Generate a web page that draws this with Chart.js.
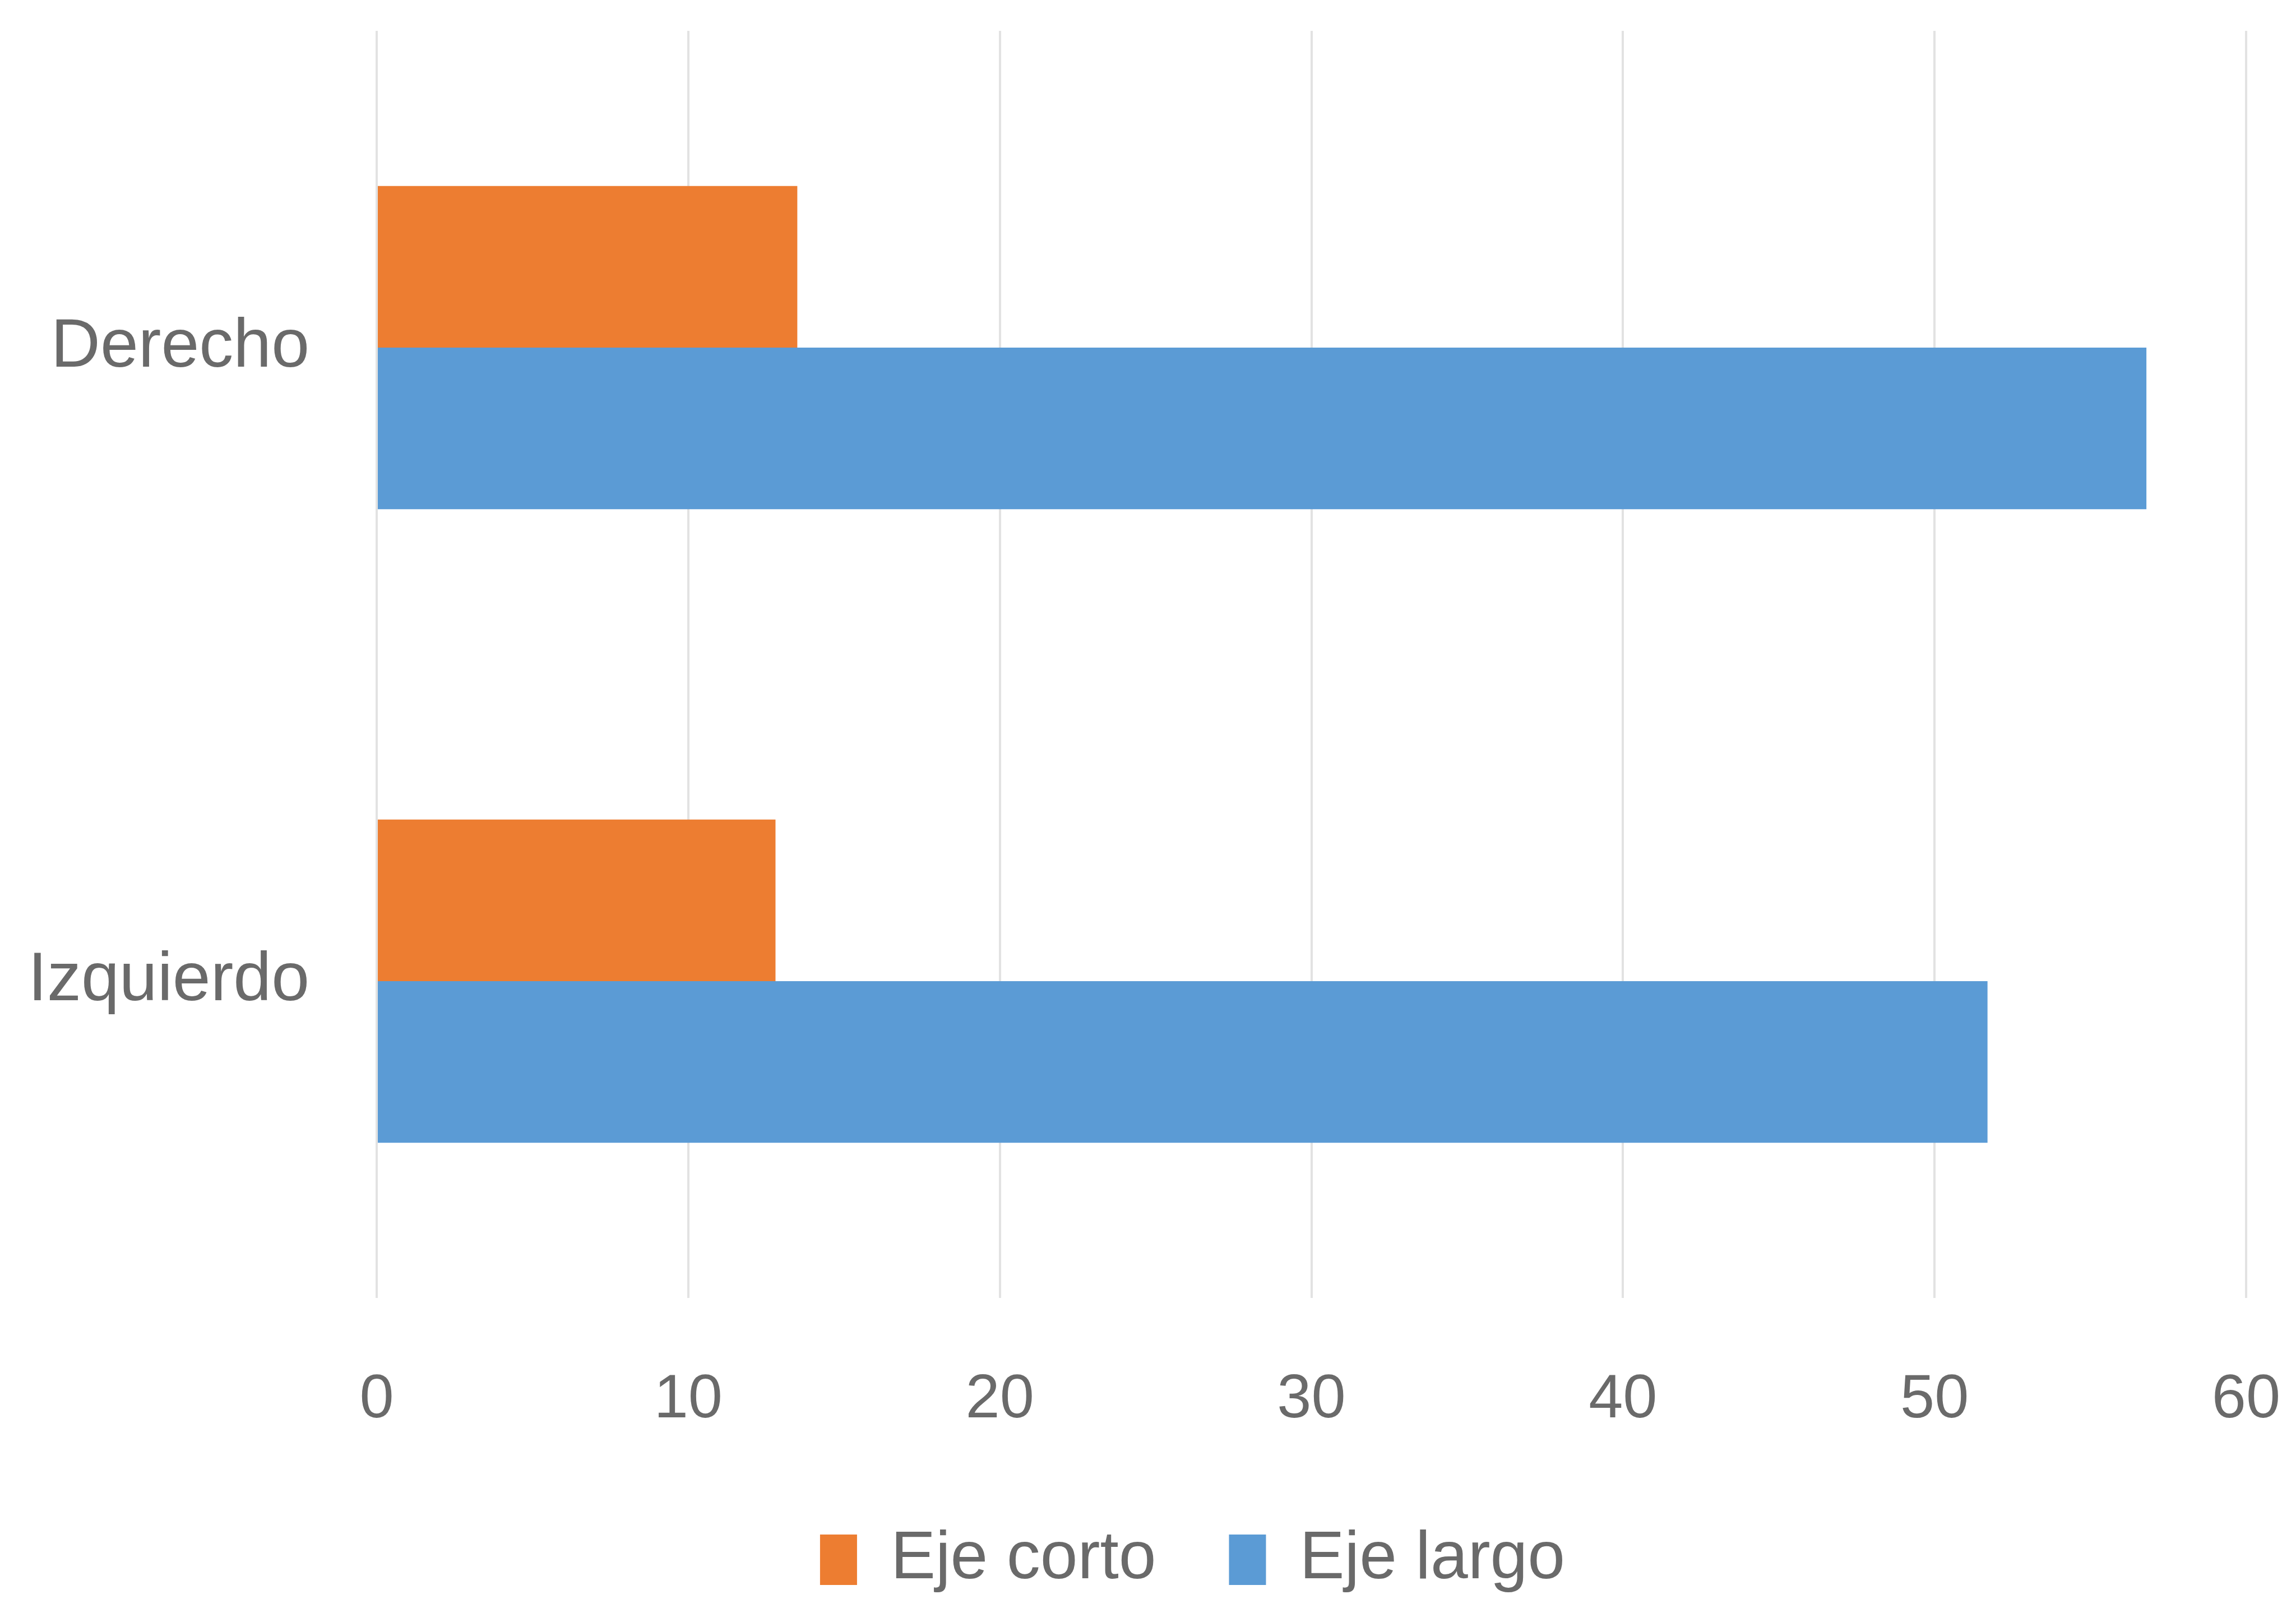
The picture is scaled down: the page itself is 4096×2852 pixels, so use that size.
<!DOCTYPE html>
<html lang="es">
<head>
<meta charset="utf-8">
<title>Eje corto / Eje largo</title>
<script src="https://cdn.jsdelivr.net/npm/chart.js@4/dist/chart.umd.min.js"></script>
<style>
    html, body { margin: 0; padding: 0; background: #ffffff; }
    #wrap { width: 4096px; height: 2852px; }
</style>
</head>
<body>
<div id="wrap"><canvas id="ejesChart"></canvas></div>
<script>
const categorias = ['Derecho', 'Izquierdo'];
const ejeCorto = [13.5, 12.8];
const ejeLargo = [56.8, 51.7];
const ticksX = [0, 10, 20, 30, 40, 50, 60];

const textColor = '#6a6a6a';
const fontFamily = '"Liberation Sans", Arial, sans-serif';

// the legend sits a bit right of the canvas centre, under the plot area
const legendShift = {
    id: 'legendShift',
    afterLayout(chart) {
        chart.legend.left += 114;
        chart.legend.right += 114;
    }
};

const ctx = document.getElementById('ejesChart').getContext('2d');
const ejesChart = new Chart(ctx, {
    type: 'bar',
    data: {
        labels: categorias,
        datasets: [
            {
                label: 'Eje corto',
                data: ejeCorto,
                backgroundColor: '#ED7D31',
                borderWidth: 0
            },
            {
                label: 'Eje largo',
                data: ejeLargo,
                backgroundColor: '#5B9BD5',
                borderWidth: 0
            }
        ]
    },
    options: {
        indexAxis: 'y',
        responsive: true,
        maintainAspectRatio: false,
        devicePixelRatio: 1,
        animation: false,
        categoryPercentage: 0.51,
        barPercentage: 1.0,
        layout: {
            padding: { top: 55, left: 20, right: 89, bottom: 0 }
        },
        scales: {
            x: {
                min: ticksX[0],
                max: ticksX[ticksX.length - 1],
                afterBuildTicks: function(scale) {
                    scale.ticks = ticksX.map(v => ({ value: v }));
                },
                afterFit: function(scale) {
                    scale.height = 277;
                    scale.paddingLeft = 0;
                    scale.paddingRight = 0;
                },
                grid: {
                    color: '#e2e2e2',
                    lineWidth: 4,
                    drawTicks: false
                },
                border: { display: false },
                ticks: {
                    padding: 117,
                    color: textColor,
                    font: { family: fontFamily, size: 110, lineHeight: 1.2 }
                }
            },
            y: {
                afterFit: function(scale) {
                    scale.width = 652;
                    scale.paddingTop = 0;
                    scale.paddingBottom = 0;
                },
                grid: { display: false, drawTicks: false },
                border: { display: false },
                ticks: {
                    padding: 120,
                    color: textColor,
                    font: { family: fontFamily, size: 122 }
                }
            }
        },
        plugins: {
            legend: {
                position: 'bottom',
                labels: {
                    boxWidth: 66,
                    boxHeight: 90,
                    padding: 130,
                    color: textColor,
                    font: { family: fontFamily, size: 120 }
                }
            },
            tooltip: { enabled: false }
        }
    },
    plugins: [legendShift]
});
</script>
</body>
</html>
